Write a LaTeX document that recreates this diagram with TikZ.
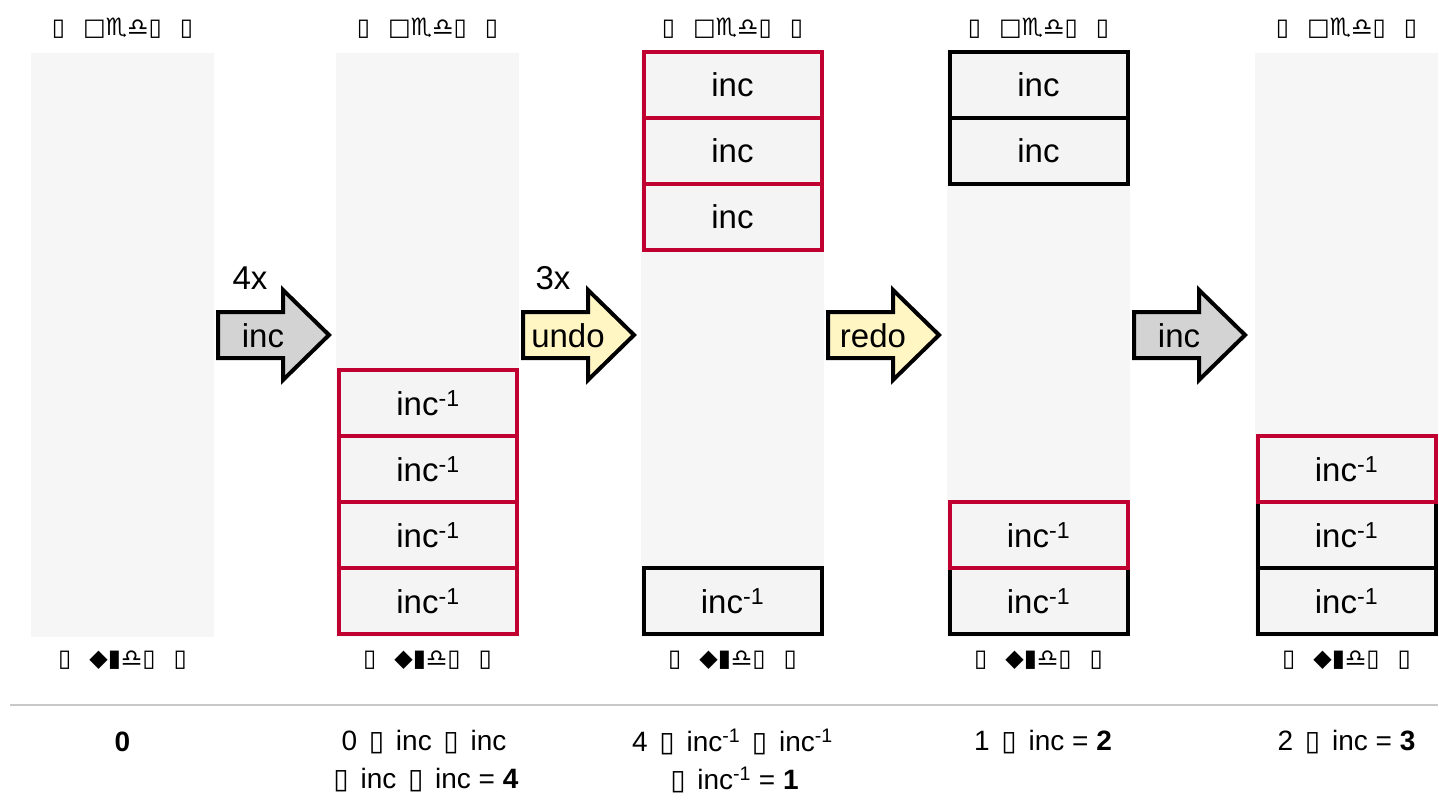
\documentclass[tikz,border=0pt]{standalone}
\usepackage{fontspec}
\setmainfont{Liberation Sans}
\newfontfamily\symfont{DejaVu Sans}
\newfontfamily\symboldfont{DejaVu Sans Bold}

\definecolor{stackbg}{HTML}{F6F6F6}
\definecolor{cellfill}{HTML}{F4F4F4}
\definecolor{accent}{RGB}{192,0,48}
\definecolor{opgray}{HTML}{D3D3D3}
\definecolor{opyellow}{HTML}{FFF6C4}
\definecolor{rulegray}{HTML}{C8C8C8}

\newcommand{\tofu}{\makebox[0.83em]{\symfont ▯}}
\newcommand{\inv}{inc\textsuperscript{-1}}

\tikzset{
  maintext/.style={font=\fontsize{33}{38}\selectfont, inner sep=0pt},
  stackcol/.style={fill=stackbg, draw=none, minimum width=183pt, minimum height=584pt, inner sep=0pt},
  cell/.style={maintext, draw=black, line width=4pt, fill=cellfill, minimum width=178pt, minimum height=66pt},
  redcell/.style={cell, draw=accent},
  stacklabel/.style={font=\symboldfont\fontsize{24}{28}\selectfont, inner sep=0pt},
  opshape/.style={draw=black, line width=4pt, line join=miter},
  formula/.style={font=\fontsize{28}{34}\selectfont, inner sep=0pt, align=center},
}

% block arrow: name, left x, fill colour, label
\newcommand{\blockarrow}[4]{%
  \draw[opshape, fill=#3] (#2,312) -- ++(65,0) -- ++(0,-22) -- ++(46,45)
    -- ++(-46,45) -- ++(0,-22) -- ++(-65,0) -- cycle;
  \node[maintext] (#1) at (#2+45,336) {#4};
}

\begin{document}
\begin{tikzpicture}[x=1pt,y=-1pt]
\useasboundingbox (0,0) rectangle (1439,802);

% stack columns
\foreach \c/\n in {122.5/s1, 427.5/s2, 732.5/s3, 1038.5/s4, 1346.5/s5}{
  \node[stackcol] (\n) at (\c,345) {};
  \node[stacklabel] (\n top) at (\c,28) {▯\hspace{0.75em}□♏♎▯\hspace{0.75em}▯};
  \node[stacklabel] (\n bot) at (\c,660) {▯\hspace{0.75em}◆▮♎▯\hspace{0.75em}▯};
}

% column 2
\node[redcell] (b21) at (428,403) {\inv};
\node[redcell] (b22) at (428,469) {\inv};
\node[redcell] (b23) at (428,535) {\inv};
\node[redcell] (b24) at (428,601) {\inv};

% column 3
\node[cell] (b34) at (732.5,601) {\inv};
\node[redcell] (b31) at (732.5,85) {inc};
\node[redcell] (b32) at (732.5,151) {inc};
\node[redcell] (b33) at (732.5,217) {inc};

% column 4
\node[cell] (b41) at (1038.5,85) {inc};
\node[cell] (b42) at (1038.5,151) {inc};
\node[cell] (b44) at (1038.5,601) {\inv};
\node[redcell] (b43) at (1038.5,535) {\inv};

% column 5
\node[cell] (b53) at (1346.5,601) {\inv};
\node[cell] (b52) at (1346.5,535) {\inv};
\node[redcell] (b51) at (1346.5,469) {\inv};

% operations between the columns
\blockarrow{a1}{218}{opgray}{inc}
\blockarrow{a2}{523}{opyellow}{undo}
\blockarrow{a3}{828}{opyellow}{redo}
\blockarrow{a4}{1134}{opgray}{inc}
\node[maintext] (n1) at (250,278) {4x};
\node[maintext] (n2) at (553,278) {3x};

% separator
\coordinate (r1) at (10,705);
\coordinate (r2) at (1438,705);
\draw[rulegray, line width=2pt] (r1) -- (r2);

% resulting values
\node[formula] (f1) at (122.5,742) {\bfseries 0};
\node[formula] (f2a) at (424,742) {0 \tofu\ inc \tofu\ inc};
\node[formula] (f2b) at (424,780) {\tofu\ inc \tofu\ inc = \textbf{4}};
\node[formula] (f3a) at (732.5,742) {4 \tofu\ \inv\ \tofu\ \inv};
\node[formula] (f3b) at (732.5,780) {\tofu\ \inv\ = \textbf{1}};
\node[formula] (f4) at (1043,742) {1 \tofu\ inc = \textbf{2}};
\node[formula] (f5) at (1346.5,742) {2 \tofu\ inc = \textbf{3}};
\end{tikzpicture}
\end{document}
